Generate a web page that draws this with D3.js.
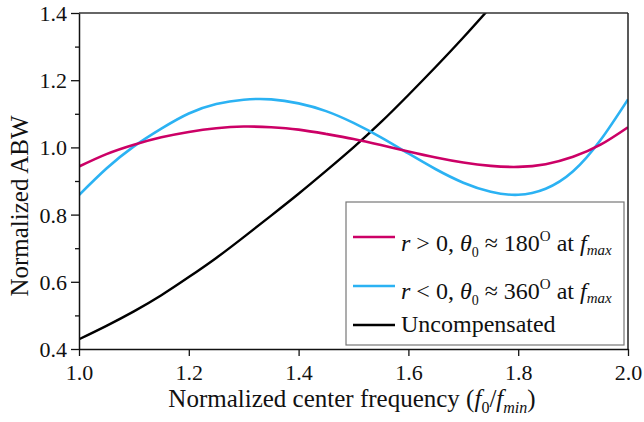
<!DOCTYPE html>
<html>
<head>
<meta charset="utf-8">
<script src="https://cdn.jsdelivr.net/npm/d3@7"></script>
<style>
  body { margin: 0; background: #fff; }
  svg text { font-family: "Liberation Serif"; }
</style>
</head>
<body>
<svg id="id_svg" width="644" height="422"></svg>
<script>
// sampled frequencies (f0/fmin)
freqs = [1.0, 1.05, 1.1, 1.15, 1.2, 1.25, 1.3, 1.35, 1.4, 1.45, 1.5, 1.55, 1.6, 1.65, 1.7, 1.75, 1.8, 1.85, 1.9, 1.95, 2.0]
// r > 0 curve
rPos = [0.943, 0.98, 1.008, 1.03, 1.046, 1.057, 1.062, 1.06, 1.053, 1.04, 1.025, 1.007, 0.988, 0.97, 0.955, 0.945, 0.942, 0.95, 0.972, 1.008, 1.06]
// r < 0 curve
rNeg = [0.858, 0.937, 1.003, 1.056, 1.101, 1.129, 1.142, 1.143, 1.131, 1.108, 1.073, 1.03, 0.982, 0.935, 0.895, 0.868, 0.859, 0.877, 0.929, 1.022, 1.143]
// uncompensated (leaves the plot at the top)
uncompFreqs = [1.0, 1.05, 1.1, 1.15, 1.2, 1.25, 1.3, 1.35, 1.4, 1.45, 1.5, 1.55, 1.6, 1.65, 1.7, 1.75]
uncomp = [0.429, 0.469, 0.512, 0.56, 0.614, 0.671, 0.733, 0.797, 0.862, 0.93, 1.0, 1.075, 1.156, 1.24, 1.327, 1.418]

xTicks = [1.0, 1.2, 1.4, 1.6, 1.8, 2.0]
yTicks = [0.4, 0.6, 0.8, 1.0, 1.2, 1.4]
yMinor = [0.5, 0.7, 0.9, 1.1, 1.3]

magenta = "#cc0066"
blue = "#2bb2f3"

chart = function() {
    const left = 79, right = 628, top = 13, bottom = 349;
    const svg = d3.select("#id_svg");

    const x = d3.scaleLinear().domain([1, 2]).range([left, right]);
    const y = d3.scaleLinear().domain([0.4, 1.4]).range([bottom, top]);

    svg.append("clipPath").attr("id", "plotclip")
        .append("rect").attr("x", left).attr("y", top)
        .attr("width", right - left).attr("height", bottom - top);

    const line = (xs) => d3.line()
        .x((d, i) => x(xs[i]))
        .y(d => y(d))
        .curve(d3.curveNatural);

    const g = svg.append("g").attr("clip-path", "url(#plotclip)");
    g.append("path").datum(uncomp).attr("d", line(uncompFreqs))
        .attr("fill", "none").attr("stroke", "#000").attr("stroke-width", 2.4);
    g.append("path").datum(rNeg).attr("d", line(freqs))
        .attr("fill", "none").attr("stroke", blue).attr("stroke-width", 2.6);
    g.append("path").datum(rPos).attr("d", line(freqs))
        .attr("fill", "none").attr("stroke", magenta).attr("stroke-width", 2.6);

    // frame
    svg.append("line").attr("x1", left).attr("x2", right).attr("y1", top).attr("y2", top)
        .attr("stroke", "#333").attr("stroke-width", 1.5);
    svg.append("line").attr("x1", right).attr("x2", right).attr("y1", top).attr("y2", bottom)
        .attr("stroke", "#222").attr("stroke-width", 1.5);

    // axes
    const xAxis = svg.append("g").attr("transform", `translate(0,${bottom})`)
        .call(d3.axisBottom(x).tickValues(xTicks).tickFormat(d3.format(".1f"))
            .tickSizeInner(7).tickSizeOuter(0).tickPadding(8));
    const yAxis = svg.append("g").attr("transform", `translate(${left},0)`)
        .call(d3.axisLeft(y).tickValues(yTicks).tickFormat(d3.format(".1f"))
            .tickSizeInner(8).tickSizeOuter(0).tickPadding(4));
    const yMinorAxis = svg.append("g").attr("transform", `translate(${left},0)`)
        .call(d3.axisLeft(y).tickValues(yMinor).tickSizeInner(4).tickSizeOuter(0));
    yMinorAxis.select(".domain").remove();
    yMinorAxis.selectAll(".tick text").remove();

    svg.selectAll(".domain").attr("stroke", "#111").attr("stroke-width", 1.5);
    svg.selectAll(".tick line").attr("stroke", "#111").attr("stroke-width", 1.3);
    [xAxis, yAxis].forEach(a => a.attr("font-family", "Liberation Serif").attr("font-size", 22));
    svg.selectAll(".tick text").attr("fill", "#111");
    yAxis.selectAll(".tick text").attr("dy", "0.34em");

    // axis titles
    const xt = svg.append("text").attr("x", 352).attr("y", 407)
        .attr("text-anchor", "middle").attr("font-size", 25).attr("fill", "#111");
    xt.append("tspan").text("Normalized center frequency (");
    xt.append("tspan").attr("font-style", "italic").text("f");
    xt.append("tspan").attr("font-size", 16).attr("dy", 6).text("0");
    xt.append("tspan").attr("dy", -6).text("/");
    xt.append("tspan").attr("font-style", "italic").text("f");
    xt.append("tspan").attr("font-size", 16).attr("font-style", "italic").attr("dy", 6).text("min");
    xt.append("tspan").attr("dy", -6).text(")");

    svg.append("text").attr("transform", "translate(28,206) rotate(-90)")
        .attr("text-anchor", "middle").attr("font-size", 25).attr("fill", "#111")
        .text("Normalized ABW");

    // legend
    svg.append("rect").attr("x", 346).attr("y", 202).attr("width", 278).attr("height", 143)
        .attr("fill", "#fff").attr("stroke", "#777").attr("stroke-width", 1.2);

    const entries = [
        { color: magenta, ly: 237, ty: 251, sign: " > 0, ", deg: "180" },
        { color: blue, ly: 286, ty: 299, sign: " < 0, ", deg: "360" },
        { color: "#000", ly: 325, ty: 332, sign: null, deg: null }
    ];
    entries.forEach(e => {
        svg.append("line").attr("x1", 353).attr("x2", 395).attr("y1", e.ly).attr("y2", e.ly)
            .attr("stroke", e.color).attr("stroke-width", 2.6);
        const t = svg.append("text").attr("x", 401).attr("y", e.ty)
            .attr("font-size", 24).attr("fill", "#111");
        if (e.deg === null) {
            t.text("Uncompensated");
            return;
        }
        t.append("tspan").attr("font-style", "italic").text("r");
        t.append("tspan").text(e.sign);
        t.append("tspan").attr("font-style", "italic").text("θ");
        t.append("tspan").attr("font-size", 14).attr("dy", 6).text("0");
        t.append("tspan").attr("dy", -6).text(" ≈ " + e.deg);
        t.append("tspan").attr("font-size", 15).attr("dy", -10).text("O");
        t.append("tspan").attr("dy", 10).text(" at ");
        t.append("tspan").attr("font-style", "italic").text("f");
        t.append("tspan").attr("font-size", 15).attr("font-style", "italic").attr("dy", 4).text("max");
    });

    return svg.node();
}
chart()
</script>
</body>
</html>
